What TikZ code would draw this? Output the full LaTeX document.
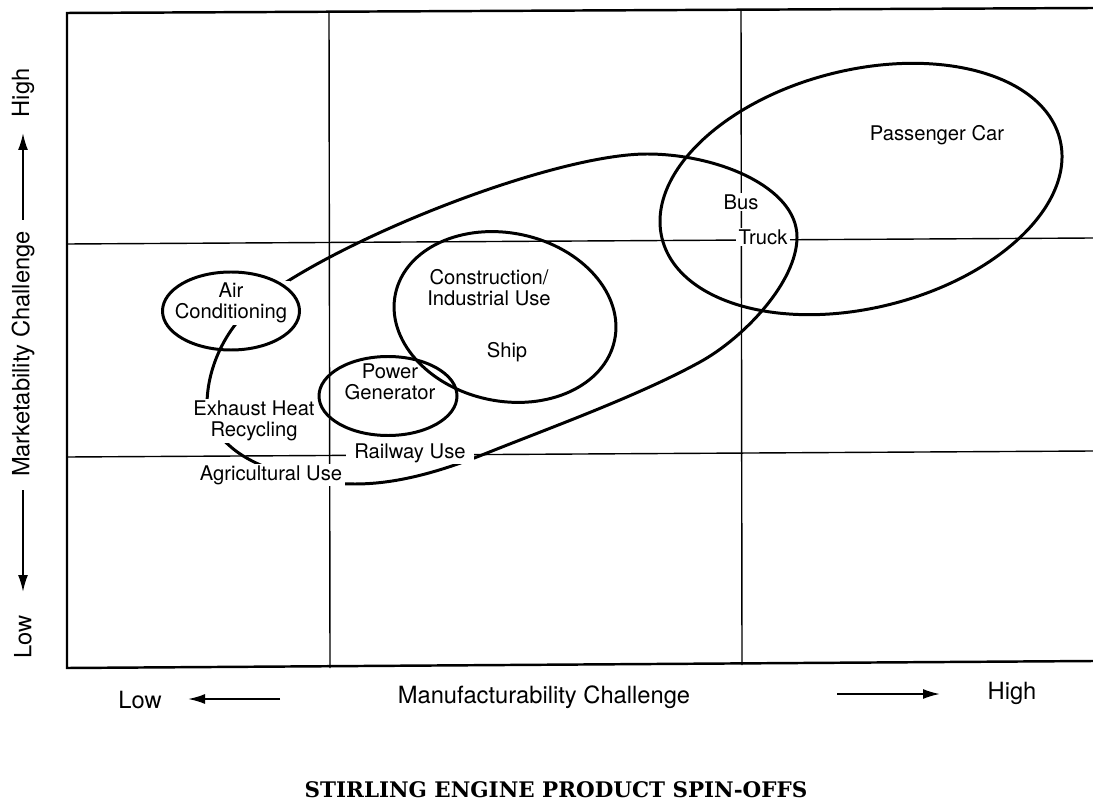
\documentclass[tikz,border=0pt]{standalone}
\usepackage{fontspec}
\setmainfont{TeX Gyre Heros}
\newfontfamily\titlefont{DejaVu Serif}
\usetikzlibrary{arrows.meta,positioning,calc}

\begin{document}
\begin{tikzpicture}[x=0.2mm, y=-0.2mm,
		frame/.style={line width=1.4pt},
		gridline/.style={line width=0.8pt},
		loop/.style={line width=1.7pt},
		axisarrow/.style={line width=1.1pt, -{Latex[length=3.4mm, width=2mm]}},
		lbl/.style={fill=white, align=center, inner xsep=1.5pt, inner ysep=1pt, font=\fontsize{11.5}{11.8}\selectfont},
		axislbl/.style={inner sep=0pt, font=\fontsize{13.5}{14}\selectfont}]
	\useasboundingbox (0,0) rectangle (1093,804);
	% quadrant grid
	\draw[frame] (1093,8) -- (67,13) -- (67,668) -- (1093,661);
	\draw[gridline] (67,244) -- (1093,238);
	\draw[gridline] (67,457) -- (1093,451);
	\draw[gridline] (329,13) -- (330,668);
	\draw[gridline] (741,11) -- (742,665);
	% big spin-off loop, broken by the labels drawn over it
	\draw[loop] (207,405) .. controls (207,365) and (228,324) .. (260,300)
		.. controls (348,234) and (557,154) .. (647,154)
		.. controls (717,154) and (797,187) .. (797,237)
		.. controls (797,282) and (743.8,337.9) .. (700,362)
		.. controls (638.7,395.7) and (552,427) .. (487,453)
		.. controls (445.2,469.7) and (400,484) .. (355,484)
		.. controls (310,484) and (257.3,470.1) .. (231,447)
		.. controls (216,433.8) and (207,425) .. cycle;
	% labels
	\node[lbl] (pcar) at (937,135) {Passenger Car};
	\node[lbl] (bus) at (741,202) {Bus};
	\node[lbl] (truck) at (763,237) {Truck};
	\node[lbl] (constr) at (489,288) {Construction/\\Industrial Use};
	\node[lbl] (ship) at (507,352) {Ship};
	\node[lbl] (aircon) at (231,303) {Air\\Conditioning};
	\node[lbl] (powgen) at (390,382) {Power\\Generator};
	\node[lbl] (exheat) at (254,421) {Exhaust Heat\\Recycling};
	\node[lbl, inner xsep=5pt] (rail) at (410,453) {Railway Use};
	\node[lbl] (agri) at (271,475) {Agricultural Use};
	% small loops
	\draw[loop] (231,311) ellipse [x radius=68.5, y radius=39];
	\draw[loop] (388,396) ellipse [x radius=69, y radius=39.5];
	\draw[loop, shift={(505,317)}, rotate=-12] (0,0) ellipse [x radius=112, y radius=84];
	\draw[loop, shift={(861,189)}, rotate=14] (0,0) ellipse [x radius=205, y radius=119];
	% axes
	\node[axislbl, rotate=90] (yhigh) at (23,93) {High};
	\node[axislbl, rotate=90] (ytitle) at (23,354) {Marketability Challenge};
	\node[axislbl, rotate=90] (ylow) at (23,637) {Low};
	\node[axislbl] (xlow) at (140,700) {Low};
	\node[axislbl] (xtitle) at (544,697) {Manufacturability Challenge};
	\node[axislbl] (xhigh) at (1012,693) {High};
	\coordinate (upTail) at (23,220);
	\coordinate (upTip) at (23,133);
	\coordinate (dnTail) at (23,490);
	\coordinate (dnTip) at (23,592);
	\coordinate (lfTail) at (280,699);
	\coordinate (lfTip) at (188,699);
	\coordinate (rtTail) at (837,694);
	\coordinate (rtTip) at (940,694);
	\draw[axisarrow] (upTail) -- (upTip);
	\draw[axisarrow] (dnTail) -- (dnTip);
	\draw[axisarrow] (lfTail) -- (lfTip);
	\draw[axisarrow] (rtTail) -- (rtTip);
	\node[font=\titlefont\bfseries\fontsize{12.2}{13}\selectfont] (title) at (556,790) {STIRLING ENGINE PRODUCT SPIN-OFFS};
\end{tikzpicture}
\end{document}
